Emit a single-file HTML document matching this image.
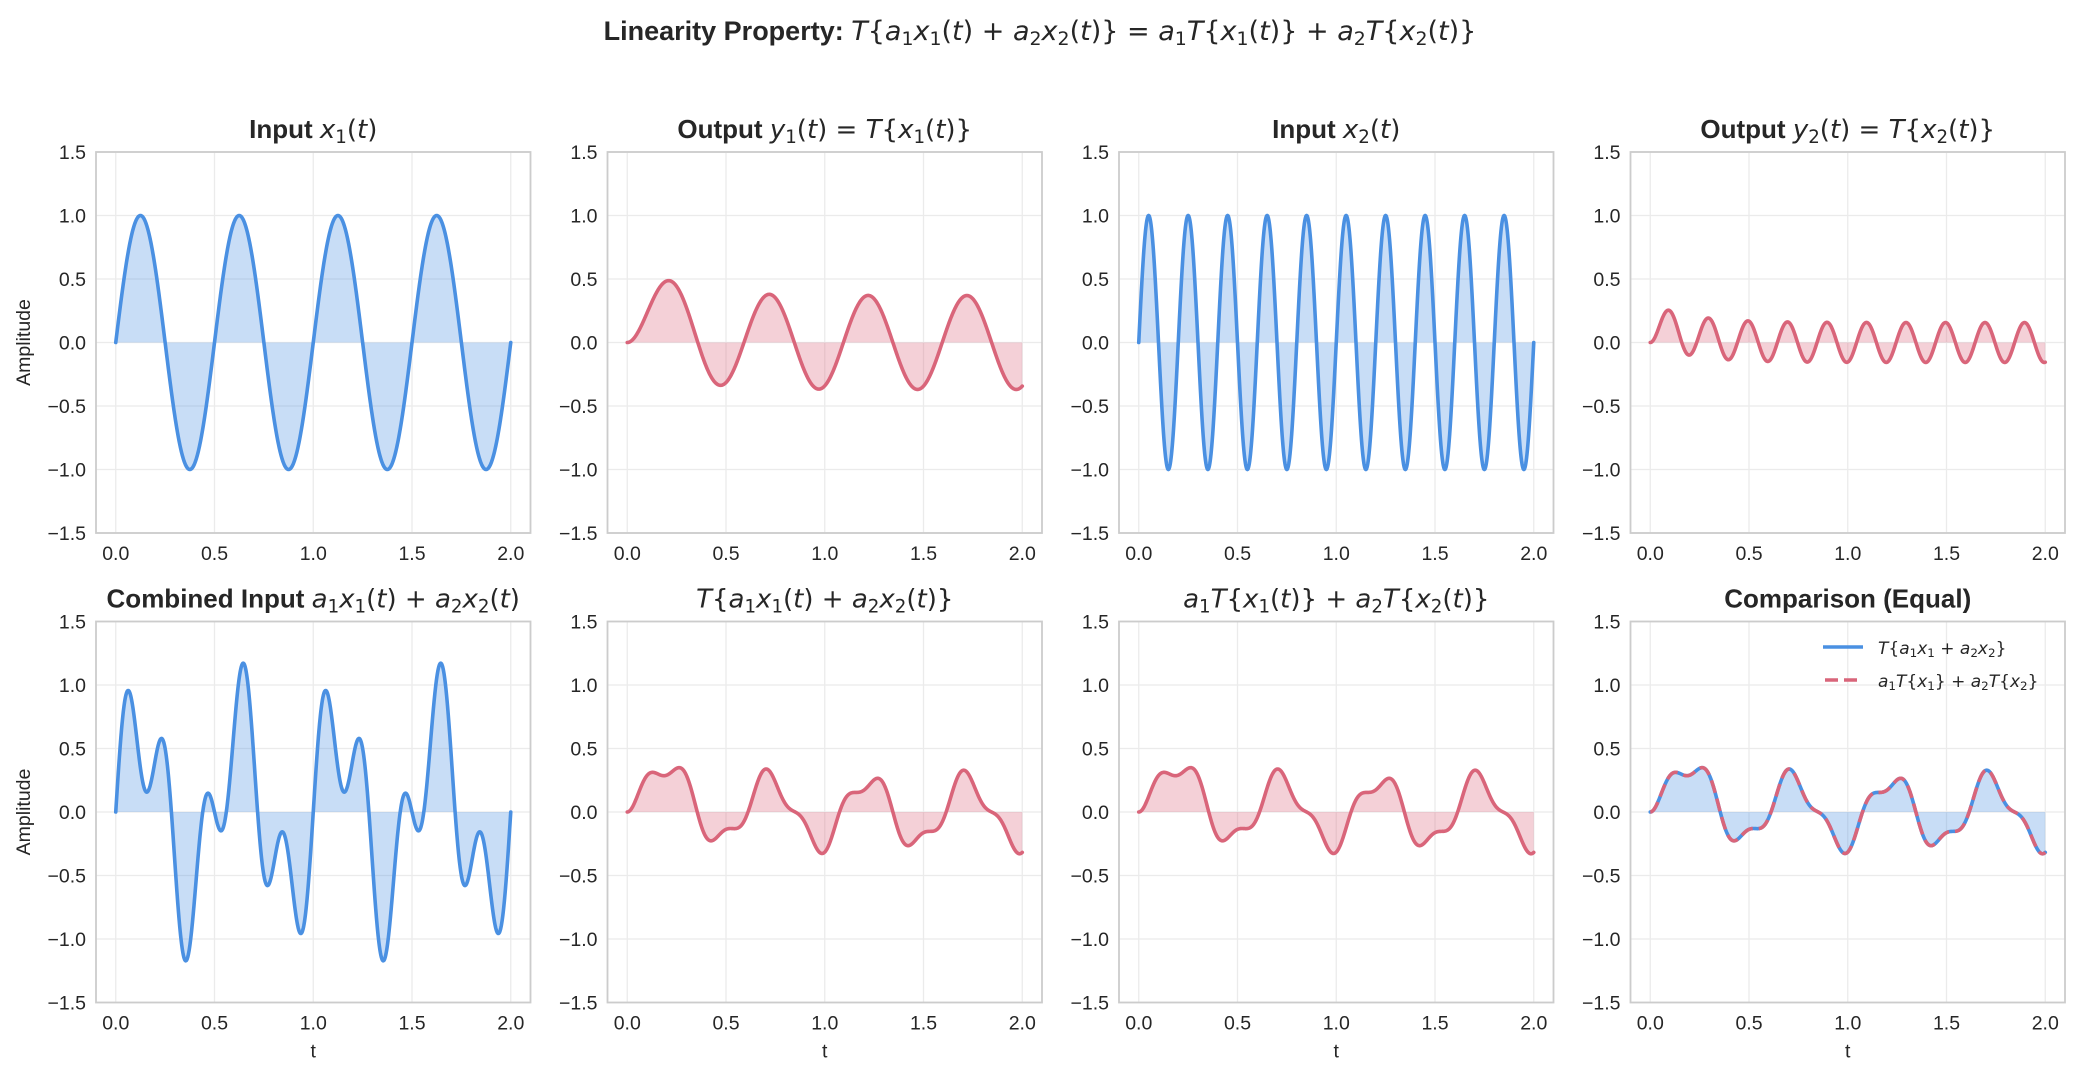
<!DOCTYPE html>
<html><head><meta charset="utf-8">
<style>
html,body{margin:0;padding:0;background:#fff;}
svg{display:block;}
text{font-family:"Liberation Sans","DejaVu Sans",sans-serif;fill:#262626;}
.m{font-family:"DejaVu Sans","Liberation Sans",sans-serif;font-style:italic;font-weight:normal;}
.r{font-family:"DejaVu Sans","Liberation Sans",sans-serif;font-style:normal;font-weight:normal;}
</style></head>
<body>
<svg id="s" width="2079" height="1074" viewBox="0 0 2079 1074" xmlns="http://www.w3.org/2000/svg"></svg>
<script>
(function(){
const S=document.getElementById('s');
let h='';
const BLUE='#4a90e2', RED='#d9657a';
const N=2000, dt=2/N, tau=0.2;
const t=[],x1=[],x2=[];
for(let i=0;i<=N;i++){t.push(i*dt);x1.push(Math.sin(4*Math.PI*i*dt));x2.push(Math.sin(10*Math.PI*i*dt));}
function filt(x){const y=[0];const sub=20;let yv=0;
 for(let i=1;i<=N;i++){for(let k=0;k<sub;k++){const f=(k+0.5)/sub;const xv=x[i-1]*(1-f)+x[i]*f;yv+=(xv-yv)/tau*(dt/sub);}y.push(yv);}return y;}
const a1=0.7,a2=0.5;
const y1=filt(x1),y2=filt(x2);
const xc=x1.map((v,i)=>a1*v+a2*x2[i]);
const yc=filt(xc);
const ys=y1.map((v,i)=>a1*v+a2*y2[i]);
const lefts=[96,607.5,1119,1630.5], W=434.5;
const tops=[152,621.5], H=381;
const sub=(s,fs)=>`<tspan class="r" font-size="${(fs*0.7).toFixed(1)}" baseline-shift="-${(fs*0.18).toFixed(1)}">${s}</tspan>`;
function mx(n,fs){return `<tspan class="m">x</tspan>${sub(n,fs)}`;}
function ma(n,fs){return `<tspan class="m">a</tspan>${sub(n,fs)}`;}
const T='<tspan class="m">T</tspan>';
const pt='<tspan class="r">(</tspan><tspan class="m">t</tspan><tspan class="r">)</tspan>';
const R=s=>`<tspan class="r">${s}</tspan>`;
function panel(c,r,data,color,title,bold,ylab,xlab,extra){
 const L=lefts[c],Tp=tops[r];
 const X=v=>L+(v+0.1)/2.2*W, Y=v=>Tp+(1.5-v)/3*H;
 for(const v of [0,0.5,1,1.5,2]) h+=`<line x1="${X(v)}" x2="${X(v)}" y1="${Tp}" y2="${Tp+H}" stroke="#ebebeb" stroke-width="1.3"/>`;
 for(const v of [-1.5,-1,-0.5,0,0.5,1,1.5]) h+=`<line x1="${L}" x2="${L+W}" y1="${Y(v)}" y2="${Y(v)}" stroke="#ebebeb" stroke-width="1.3"/>`;
 let p=`M${X(0)},${Y(0)}`;for(let i=0;i<=N;i+=2)p+=`L${X(t[i]).toFixed(2)},${Y(data[i]).toFixed(2)}`;p+=`L${X(2)},${Y(0)}Z`;
 h+=`<path d="${p}" fill="${color}" fill-opacity="0.3" stroke="none"/>`;
 let q='';for(let i=0;i<=N;i+=2)q+=(i?'L':'M')+X(t[i]).toFixed(2)+','+Y(data[i]).toFixed(2);
 h+=`<path d="${q}" fill="none" stroke="${color}" stroke-width="3.6" stroke-linejoin="round" stroke-linecap="round"/>`;
 if(extra){let q2='';for(let i=0;i<=N;i+=2)q2+=(i?'L':'M')+X(t[i]).toFixed(2)+','+Y(extra[i]).toFixed(2);
  h+=`<path d="${q2}" fill="none" stroke="${RED}" stroke-width="3.6" stroke-dasharray="13,6"/>`;}
 h+=`<rect x="${L}" y="${Tp}" width="${W}" height="${H}" fill="none" stroke="#cccccc" stroke-width="1.8"/>`;
 for(const v of [-1.5,-1,-0.5,0,0.5,1,1.5]) h+=`<text x="${L-10}" y="${Y(v)+7}" font-size="19.5" text-anchor="end">${v<0?'\u2212':''}${Math.abs(v).toFixed(1)}</text>`;
 for(const v of [0,0.5,1,1.5,2]) h+=`<text x="${X(v)}" y="${Tp+H+27}" font-size="19.5" text-anchor="middle">${v.toFixed(1)}</text>`;
 h+=`<text x="${L+W/2}" y="${Tp-14}" font-size="26" text-anchor="middle" ${bold?'font-weight="bold"':''}>${title}</text>`;
 if(ylab) h+=`<text transform="translate(${L-66},${Tp+H/2}) rotate(-90)" font-size="19.5" text-anchor="middle">Amplitude</text>`;
 if(xlab) h+=`<text x="${L+W/2}" y="${Tp+H+55}" font-size="19.5" text-anchor="middle">t</text>`;
}
const fs=26;
panel(0,0,x1,BLUE,`Input ${mx(1,fs)}${pt}`,1,1,0);
panel(1,0,y1,RED,`Output <tspan class="m">y</tspan>${sub(1,fs)}${pt}${R(' = ')}${T}${R('{')}${mx(1,fs)}${pt}${R('}')}`,1,0,0);
panel(2,0,x2,BLUE,`Input ${mx(2,fs)}${pt}`,1,0,0);
panel(3,0,y2,RED,`Output <tspan class="m">y</tspan>${sub(2,fs)}${pt}${R(' = ')}${T}${R('{')}${mx(2,fs)}${pt}${R('}')}`,1,0,0);
panel(0,1,xc,BLUE,`Combined Input ${ma(1,fs)}${mx(1,fs)}${pt}${R(' + ')}${ma(2,fs)}${mx(2,fs)}${pt}`,1,1,1);
panel(1,1,yc,RED,`${T}${R('{')}${ma(1,fs)}${mx(1,fs)}${pt}${R(' + ')}${ma(2,fs)}${mx(2,fs)}${pt}${R('}')}`,0,0,1);
panel(2,1,ys,RED,`${ma(1,fs)}${T}${R('{')}${mx(1,fs)}${pt}${R('}')}${R(' + ')}${ma(2,fs)}${T}${R('{')}${mx(2,fs)}${pt}${R('}')}`,0,0,1);
panel(3,1,yc,BLUE,`Comparison (Equal)`,1,0,1,ys);
const lf=17;
h+=`<line x1="1823" x2="1863" y1="647" y2="647" stroke="${BLUE}" stroke-width="3.6"/>`;
h+=`<line x1="1825" x2="1863" y1="680" y2="680" stroke="${RED}" stroke-width="3.6" stroke-dasharray="13,6"/>`;
h+=`<text x="1878" y="654" font-size="${lf}">${T}${R('{')}${ma(1,lf)}${mx(1,lf)}${R(' + ')}${ma(2,lf)}${mx(2,lf)}${R('}')}</text>`;
h+=`<text x="1878" y="687" font-size="${lf}">${ma(1,lf)}${T}${R('{')}${mx(1,lf)}${R('}')}${R(' + ')}${ma(2,lf)}${T}${R('{')}${mx(2,lf)}${R('}')}</text>`;
const sf=27;
h+=`<text x="1040" y="40" font-size="${sf}" font-weight="bold" text-anchor="middle">Linearity Property: ${T}${R('{')}${ma(1,sf)}${mx(1,sf)}${pt}${R(' + ')}${ma(2,sf)}${mx(2,sf)}${pt}${R('}')}${R(' = ')}${ma(1,sf)}${T}${R('{')}${mx(1,sf)}${pt}${R('}')}${R(' + ')}${ma(2,sf)}${T}${R('{')}${mx(2,sf)}${pt}${R('}')}</text>`;
S.innerHTML=h;
})();
</script>
</body></html>
